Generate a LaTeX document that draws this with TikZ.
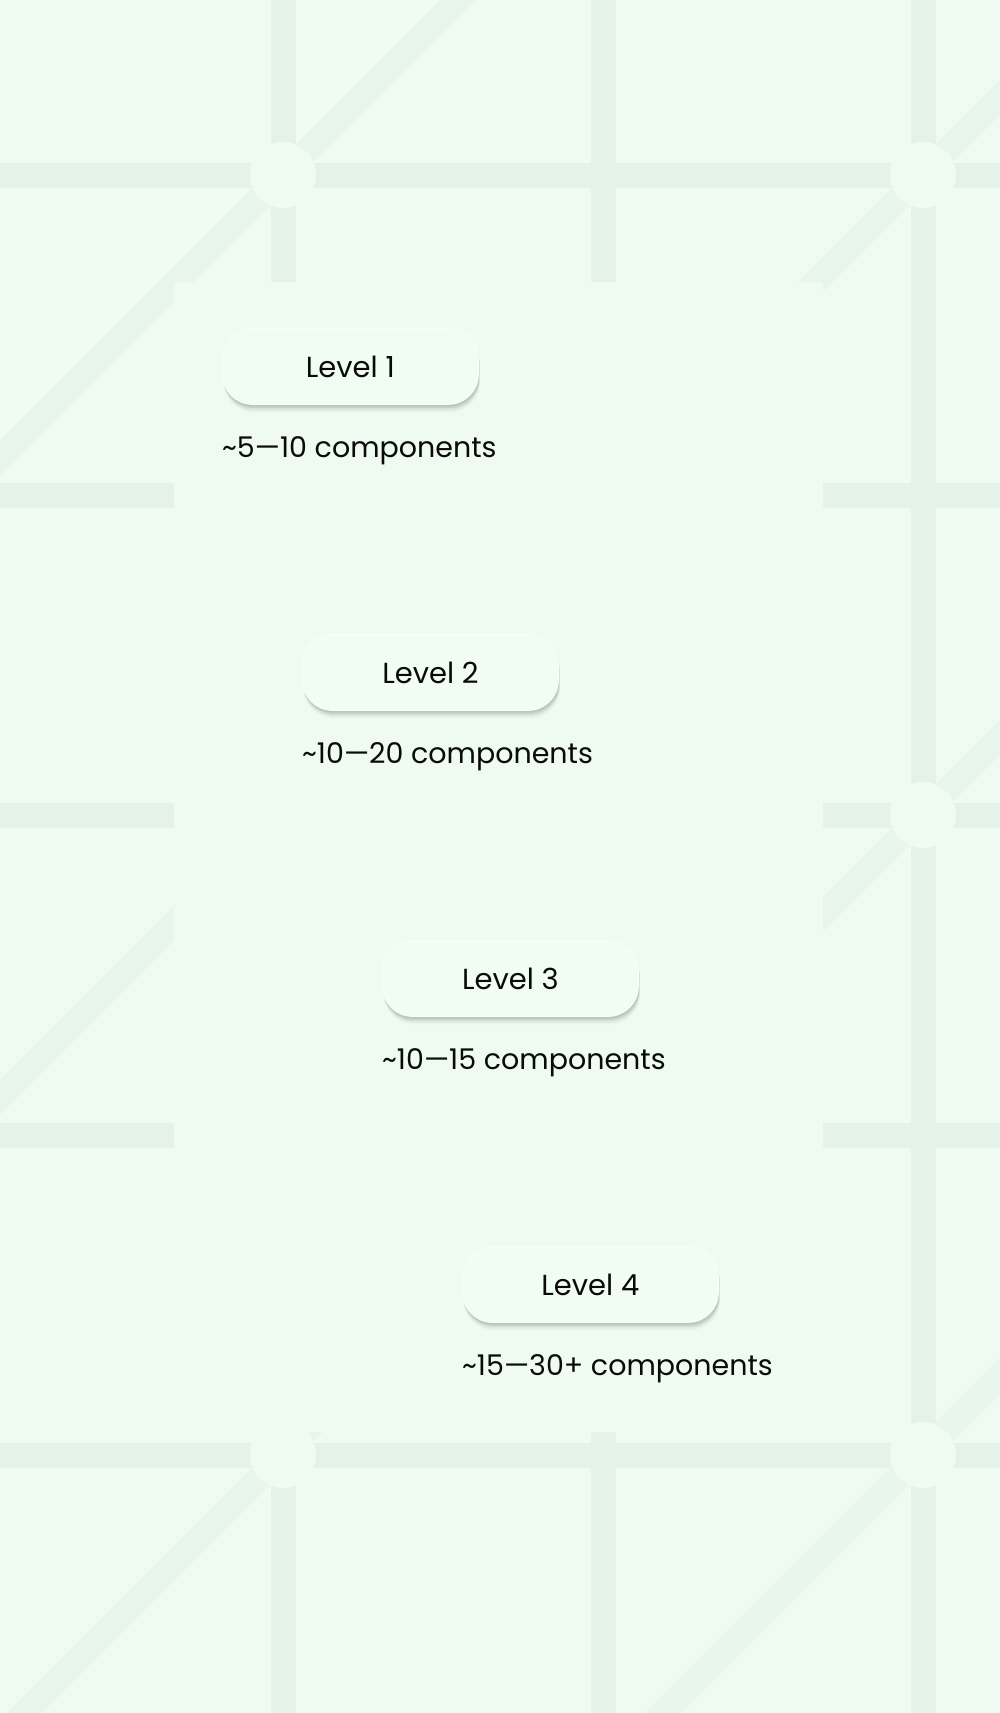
\documentclass[tikz,border=0pt]{standalone}
\usepackage{fontspec}
\setmainfont{Poppins}
\usetikzlibrary{shadows}
\definecolor{bgc}{RGB}{239,251,240}
\definecolor{linec}{RGB}{229,242,232}
\definecolor{diagc}{RGB}{232,245,235}
\definecolor{boxc}{RGB}{241,252,242}
\definecolor{shc}{RGB}{100,120,102}
\definecolor{txtc}{RGB}{10,10,10}
\tikzset{
  gridline/.style={fill=linec},
  diagline/.style={draw=diagc, line width=25pt},
  hole/.style={fill=bgc},
  lvlbox/.style={fill=boxc, draw=white!50!boxc, line width=0.8pt, rounded corners=30pt,
    minimum width=256pt, minimum height=76pt, inner sep=0pt, anchor=north west,
    text=txtc, font=\fontsize{29}{34}\selectfont,
    general shadow={shadow yshift=-8pt, shadow xshift=1.5pt, opacity=0.04, fill=shc},
    general shadow={shadow yshift=-6.5pt, shadow xshift=1.5pt, opacity=0.06, fill=shc},
    general shadow={shadow yshift=-5pt, shadow xshift=1pt, opacity=0.09, fill=shc},
    general shadow={shadow yshift=-3.5pt, shadow xshift=1pt, opacity=0.14, fill=shc},
    general shadow={shadow yshift=-2pt, shadow xshift=0.5pt, opacity=0.14, fill=shc}},
  sublbl/.style={anchor=base west, inner sep=0pt, text=txtc, font=\fontsize{28.5}{33}\selectfont}
}
\begin{document}
\begin{tikzpicture}[x=1pt,y=-1pt]
\fill[bgc] (0,0) rectangle (1000,1713);
\useasboundingbox (0,0) rectangle (1000,1713);
\begin{scope}
\clip (0,0) rectangle (1000,1713);
\foreach \x in {283,603,923} \fill[gridline] (\x-12.5,0) rectangle (\x+12.5,1713);
\foreach \y in {175,495,815,1135,1455} \fill[gridline] (0,\y-12.5) rectangle (1000,\y+12.5);
\foreach \c in {458,1097,1737,2376} \draw[diagline] (\c+100,-100) -- (\c-1813,1813);
\foreach \p in {(283,175),(923,175),(923,815),(283,1455),(923,1455)} \fill[hole] \p circle[radius=33pt];
\fill[hole] (174,282) rectangle (823,1432);
\end{scope}
\node[lvlbox] (l1) at (222,328) {Level 1};
\node[lvlbox] (l2) at (302,634) {Level 2};
\node[lvlbox] (l3) at (382,940) {Level 3};
\node[lvlbox] (l4) at (462,1246) {Level 4};
\node[sublbl] (s1) at (222,457) {\textasciitilde 5—10 components};
\node[sublbl] (s2) at (302,763) {\textasciitilde 10—20 components};
\node[sublbl] (s3) at (382,1069) {\textasciitilde 10—15 components};
\node[sublbl] (s4) at (462,1375) {\textasciitilde 15—30+ components};
\end{tikzpicture}
\end{document}
